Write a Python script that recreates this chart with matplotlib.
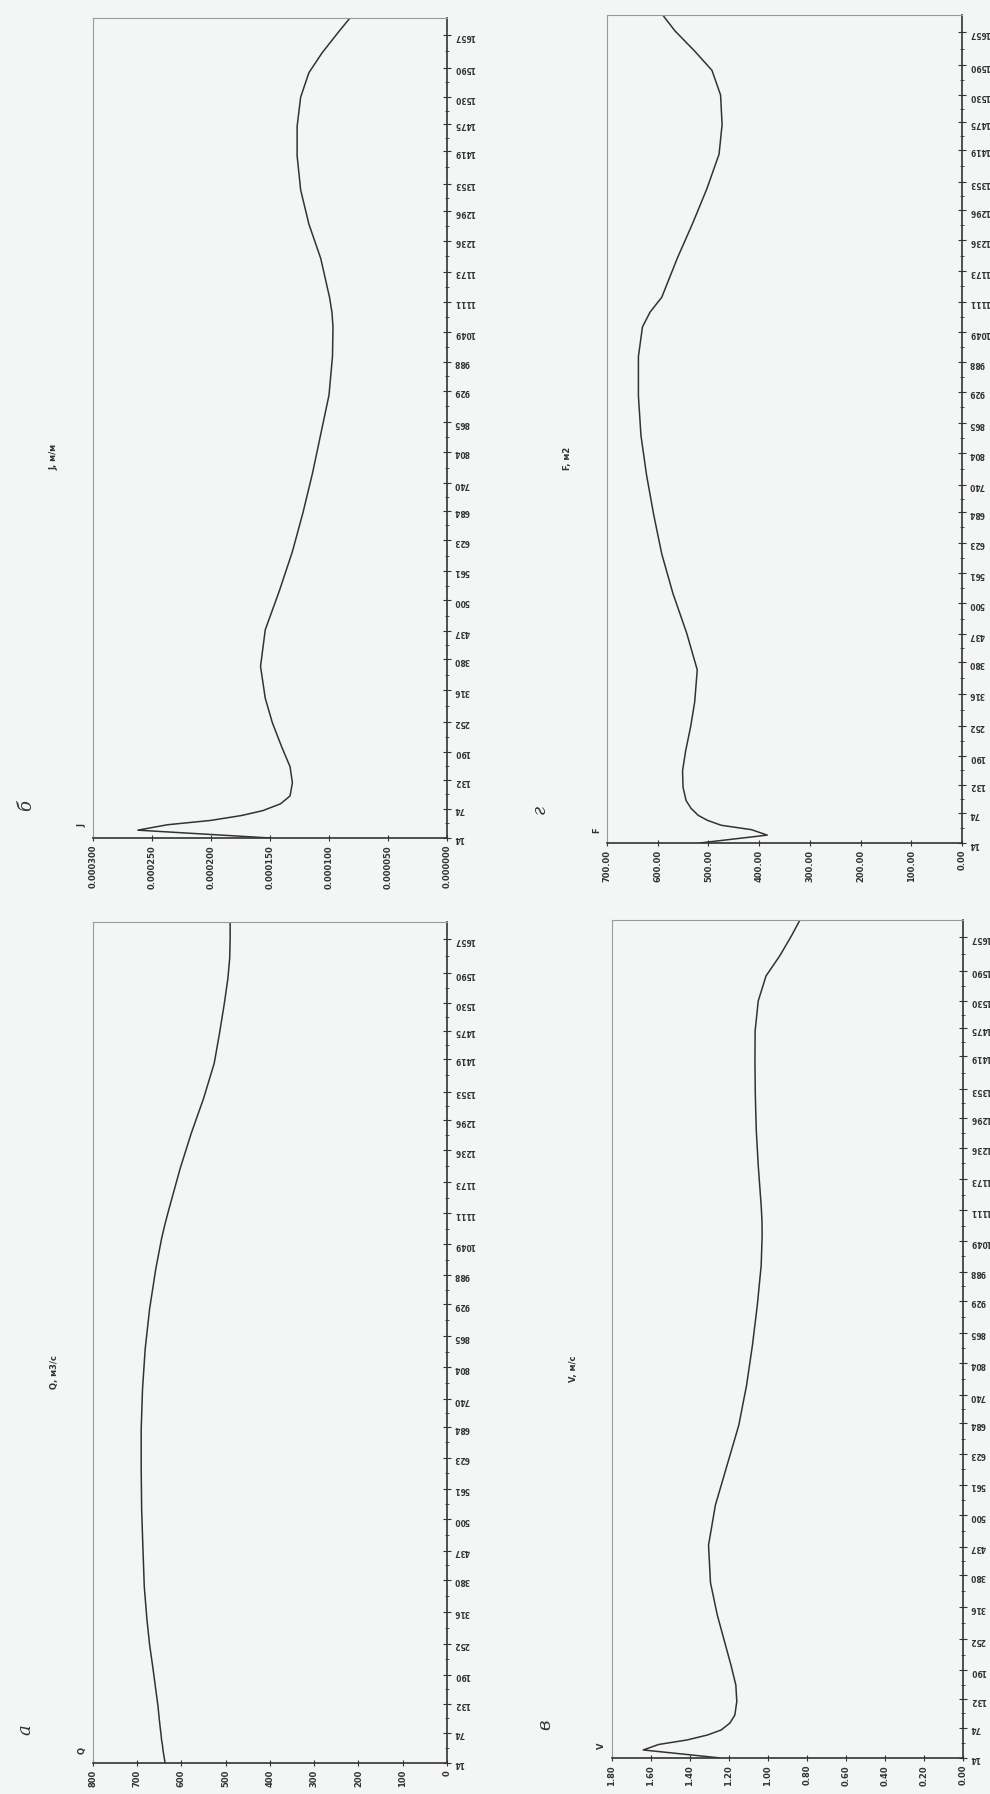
import matplotlib.pyplot as plt
import numpy as np

# подписи створов по оси (км)
km_ticks = [14, 74, 132, 190, 252, 316, 380, 437, 500, 561, 623, 684, 740, 804,
            865, 929, 988, 1049, 1111, 1173, 1236, 1296, 1353, 1419, 1475, 1530,
            1590, 1657]

# расчетные створы
km = [14, 30, 41, 50, 60, 70, 84, 100, 127, 160, 200, 250, 300, 365, 440, 520,
      600, 680, 760, 840, 920, 1000, 1060, 1090, 1120, 1200, 1270, 1340, 1410,
      1470, 1530, 1580, 1620, 1660, 1692]

# расход, м3/с
Q = [637, 640, 642, 643, 645, 646, 648, 650, 653, 658, 664, 672, 678, 684,
     687, 690, 691, 691, 688, 682, 672, 658, 645, 637, 628, 603, 578, 550,
     526, 514, 503, 495, 491, 490, 490]

# уклон
J = [0.000150, 0.000262, 0.000237, 0.000200, 0.000174, 0.000156, 0.000141,
     0.000133, 0.000131, 0.000133, 0.000140, 0.000148, 0.000154, 0.000158,
     0.000154, 0.000142, 0.000131, 0.000122, 0.000114, 0.000107, 0.000100,
     0.0000970, 0.0000966, 0.0000975, 0.0000995, 0.000107, 0.000117, 0.000124,
     0.000127, 0.000127, 0.000124, 0.000117, 0.000106, 0.0000930, 0.0000822]

# скорость, м/с
V = [1.246, 1.64, 1.56, 1.415, 1.31, 1.24, 1.195, 1.17, 1.16, 1.165, 1.19,
     1.225, 1.26, 1.295, 1.305, 1.27, 1.21, 1.15, 1.11, 1.08, 1.055, 1.035,
     1.03, 1.031, 1.035, 1.05, 1.06, 1.065, 1.067, 1.066, 1.05, 1.01, 0.94,
     0.88, 0.836]

# площадь сечения, м2
F = [517, 384, 415, 475, 502, 520, 534, 544, 550, 551, 545, 535, 527, 522,
     543, 570, 592, 608, 622, 633, 638, 638, 630, 615, 592, 561, 531, 503,
     479, 473, 476, 493, 528, 566, 590]

bg = '#f4f6f6'
ink = '#333333'

fig = plt.figure(figsize=(9.9, 17.94), dpi=100, facecolor=bg)

panels = [
    # [left, bottom, width, height], данные, шкала, формат, буква, подпись, символ
    ([0.0939, 0.5329, 0.3576, 0.4571], J, np.arange(0, 0.00031, 0.00005), '{:.6f}', 'б', 'J, м/м', 'J'),
    ([0.6131, 0.5301, 0.3586, 0.4615], F, np.arange(0, 701, 100), '{:.2f}', 'г', 'F, м2', 'F'),
    ([0.0939, 0.0173, 0.3576, 0.4688], Q, np.arange(0, 801, 100), '{:.0f}', 'а', 'Q, м3/с', 'Q'),
    ([0.6182, 0.0201, 0.3545, 0.4671], V, np.arange(0, 1.81, 0.2), '{:.2f}', 'в', 'V, м/с', 'V'),
]

for pos, vals, ticks, fmt, letter, title, sym in panels:
    ax = fig.add_axes(pos)
    ax.set_facecolor(bg)
    ax.plot(vals, km, color=ink, lw=1.1, solid_joinstyle='round')

    ax.set_xlim(ticks[-1], 0)
    ax.set_ylim(14, 1692)

    ax.set_xticks(ticks)
    ax.set_xticklabels([fmt.format(t) for t in ticks], rotation=90,
                       fontsize=6, fontweight='bold', color=ink)
    ax.set_yticks(km_ticks)
    ax.set_yticks([(a + b) / 2 for a, b in zip(km_ticks[:-1], km_ticks[1:])], minor=True)
    ax.set_yticklabels([str(t) for t in km_ticks], rotation=180,
                       fontsize=5.5, fontweight='bold', color=ink)
    ax.yaxis.tick_right()
    ax.tick_params(axis='y', which='major', direction='inout', length=6,
                   width=0.8, color=ink, pad=2)
    ax.tick_params(axis='y', which='minor', direction='inout', length=3,
                   width=0.6, color=ink, right=True, left=False)
    ax.tick_params(axis='x', direction='inout', length=4, width=0.8,
                   color=ink, pad=3)

    for side in ('top', 'left'):
        ax.spines[side].set_color('#9a9a9a')
        ax.spines[side].set_linewidth(0.8)
    for side in ('bottom', 'right'):
        ax.spines[side].set_color(ink)
        ax.spines[side].set_linewidth(1.2)

    ax.text(-0.03, 0.015, sym, transform=ax.transAxes, rotation=90,
            fontsize=6, fontweight='bold', color=ink, ha='center', va='center')
    ax.text(-0.11, 0.465, title, transform=ax.transAxes, rotation=90,
            fontsize=6, fontweight='bold', color=ink, ha='center', va='center')
    ax.text(-0.19, 0.04, letter, transform=ax.transAxes, rotation=90,
            fontsize=13, style='italic', family='DejaVu Serif', color=ink,
            ha='center', va='center')

fig.savefig('out.png', dpi=100, facecolor=bg)
